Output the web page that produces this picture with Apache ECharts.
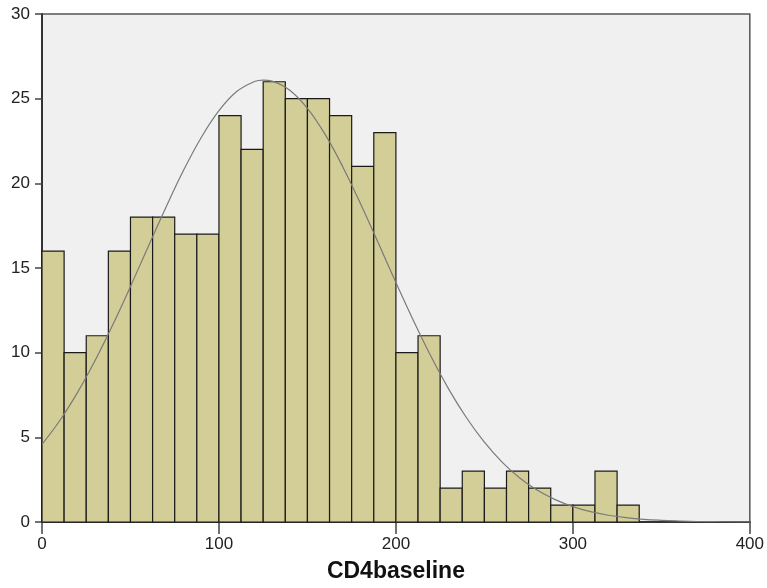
<!DOCTYPE html>
<html>
<head>
<meta charset="utf-8">
<script src="https://cdn.jsdelivr.net/npm/echarts@6/dist/echarts.min.js"></script>
<style>
html,body{margin:0;padding:0;background:#fff;}
#chart{width:767px;height:588px;}
</style>
</head>
<body>
<div id="chart"></div>
<script>
// Histogram bins (CD4baseline), bin width 12.5
const binStarts = [0,12.5,25,37.5,50,62.5,75,87.5,100,112.5,125,137.5,150,162.5,175,187.5,200,212.5,225,237.5,250,262.5,275,287.5,300,312.5,325];
const binWidth = 12.5;
const counts = [16,10,11,16,18,18,17,17,24,22,26,25,25,24,21,23,10,11,2,3,2,3,2,1,1,3,1];
// Normal curve points
const curveX = [0,10,20,30,40,50,60,70,80,90,100,110,120,125,130,140,150,160,170,180,190,200,210,220,230,240,250,260,270,280,290,300,310,320,330,340,350,360,370,380,390,400];
const curveY = [4.59,5.98,7.64,9.54,11.65,13.91,16.26,18.58,20.77,22.71,24.29,25.42,26.01,26.1,26.04,25.50,24.43,22.89,20.97,18.80,16.49,14.14,11.87,9.74,7.82,6.14,4.71,3.54,2.60,1.87,1.32,0.91,0.61,0.40,0.26,0.16,0.10,0.06,0.03,0.02,0.01,0.005];
const xTicks = [0,100,200,300,400];
const yTicks = [0,5,10,15,20,25,30];
const xTitle = 'CD4baseline';

const chart = echarts.init(document.getElementById('chart'), null, {renderer:'canvas'});
const barData = binStarts.map((s,i)=>[s, s+binWidth, counts[i]]);
const lineData = curveX.map((x,i)=>[x, curveY[i]]);
const fontFam = '"Liberation Sans", Arial, sans-serif';
chart.setOption({
  animation:false,
  grid:{left:42, top:14, right:16, bottom:64, show:true, backgroundColor:'#f0f0f0', borderColor:'#555', borderWidth:1.5},
  xAxis:{
    type:'value', min:0, max:400, interval:100,
    name:xTitle, nameLocation:'middle', nameGap:38,
    nameTextStyle:{fontFamily:fontFam, fontWeight:'bold', fontSize:23, color:'#111'},
    axisLine:{show:true, onZero:false, lineStyle:{color:'#333', width:2}},
    axisTick:{show:true, length:12, lineStyle:{color:'#444', width:1.5}},
    axisLabel:{fontFamily:fontFam, fontSize:17, color:'#222', margin:14},
    splitLine:{show:false}
  },
  yAxis:{
    type:'value', min:0, max:30, interval:5,
    axisLine:{show:true, lineStyle:{color:'#333', width:2}},
    axisTick:{show:true, length:7, lineStyle:{color:'#444', width:1.5}},
    axisLabel:{fontFamily:fontFam, fontSize:17, color:'#222', margin:12},
    splitLine:{show:false}
  },
  series:[
    {
      type:'custom',
      data:barData,
      encode:{x:[0,1], y:2},
      renderItem:function(params, api){
        const p0 = api.coord([api.value(0), 0]);
        const p1 = api.coord([api.value(1), api.value(2)]);
        return {
          type:'rect',
          shape:{x:p0[0], y:p1[1], width:p1[0]-p0[0], height:p0[1]-p1[1]},
          style:{fill:'#d3ce97', stroke:'#1a1a1a', lineWidth:1.2}
        };
      },
      z:2
    },
    {
      type:'line',
      data:lineData,
      smooth:0.4,
      showSymbol:false,
      lineStyle:{color:'#7a7a7a', width:1.2},
      z:3
    }
  ]
});
</script>
</body>
</html>
